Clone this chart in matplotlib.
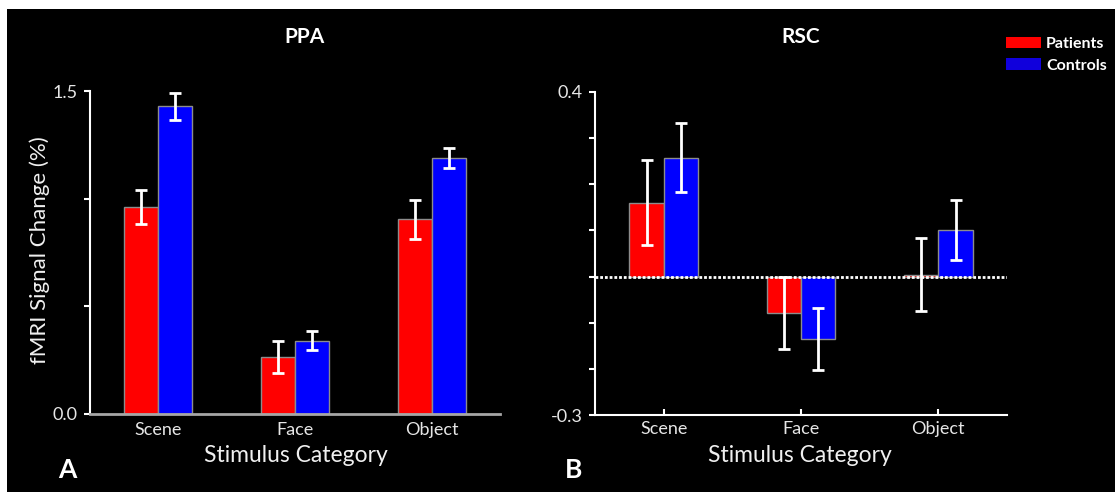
import matplotlib.pyplot as plt
import numpy as np
from matplotlib.patches import Rectangle, Patch

# values
categories = ["Scene", "Face", "Object"]

ppa_patients = [0.96, 0.265, 0.905]
ppa_patients_err = [0.079, 0.075, 0.09]
ppa_controls = [1.43, 0.34, 1.19]
ppa_controls_err = [0.063, 0.044, 0.047]

rsc_patients = [0.16, -0.079, 0.004]
rsc_patients_err = [0.092, 0.079, 0.079]
rsc_controls = [0.258, -0.135, 0.101]
rsc_controls_err = [0.074, 0.067, 0.065]

plt.rcParams['font.family'] = ['Lato', 'DejaVu Sans']

W, H = 1115, 492
fig = plt.figure(figsize=(W / 100, H / 100), dpi=100, facecolor='white')
# black panel with a thin white margin at top and left
fig.add_artist(Rectangle((7 / W, 0), 1, 1 - 9 / H, transform=fig.transFigure,
                         facecolor='black', edgecolor='none', zorder=-10))


def px(x, y):
    return x / W, 1 - y / H


def draw_panel(ax, patients, p_err, controls, c_err):
    x = np.arange(len(categories))
    w = 0.25
    ax.bar(x - w / 2, patients, w, color='#ff0000', edgecolor='#8c8c8c', linewidth=1, zorder=2)
    ax.bar(x + w / 2, controls, w, color='#0000ff', edgecolor='#8c8c8c', linewidth=1, zorder=2)
    ax.errorbar(x - w / 2, patients, yerr=p_err, fmt='none', ecolor='white',
                elinewidth=2, capsize=4.5, capthick=2, zorder=4)
    ax.errorbar(x + w / 2, controls, yerr=c_err, fmt='none', ecolor='white',
                elinewidth=2, capsize=4.5, capthick=2, zorder=4)
    ax.set_xlim(-0.5, 2.5)
    ax.set_xticks(x)
    ax.set_xticklabels(categories)
    ax.set_facecolor('black')
    for s in ['top', 'right']:
        ax.spines[s].set_visible(False)
    ax.spines['left'].set_color('white')
    ax.spines['left'].set_linewidth(1.5)
    ax.tick_params(axis='y', direction='out', length=4, width=1.5, color='white',
                   labelcolor='#e6e6e6', labelsize=13, pad=5)
    ax.tick_params(axis='x', labelcolor='#e6e6e6', labelsize=13)


# PPA panel
ax1 = fig.add_axes([90 / W, 1 - 414 / H, 410 / W, 323 / H])
draw_panel(ax1, ppa_patients, ppa_patients_err, ppa_controls, ppa_controls_err)
ax1.set_ylim(0, 1.5)
ax1.set_yticks([0, 0.5, 1.0, 1.5])
ax1.set_yticklabels(['0.0', '', '', '1.5'])
ax1.spines['bottom'].set_color('#a6a6a6')
ax1.spines['bottom'].set_linewidth(2)
ax1.spines['bottom'].set_zorder(3)
ax1.tick_params(axis='x', length=0, pad=6)

# RSC panel
ax2 = fig.add_axes([595 / W, 1 - 415 / H, 412 / W, 323 / H])
draw_panel(ax2, rsc_patients, rsc_patients_err, rsc_controls, rsc_controls_err)
ax2.set_ylim(-0.3, 0.4)
ax2.set_yticks(np.arange(-0.3, 0.41, 0.1))
ax2.set_yticklabels(['-0.3', '', '', '', '', '', '', '0.4'])
ax2.spines['bottom'].set_color('white')
ax2.spines['bottom'].set_linewidth(1.5)
ax2.tick_params(axis='x', direction='in', length=4, width=1.5, color='white', pad=4)
ax2.axhline(0, color='white', linestyle=(0, (1.0, 0.7)), linewidth=2, zorder=3)

# titles, labels, panel letters
fig.text(*px(304, 37), 'PPA', color='white', fontsize=15, fontweight='bold', ha='center', va='center')
fig.text(*px(801, 37), 'RSC', color='white', fontsize=15, fontweight='bold', ha='center', va='center')
fig.text(*px(296, 455), 'Stimulus Category', color='#f0f0f0', fontsize=16.5, ha='center', va='center')
fig.text(*px(800, 455), 'Stimulus Category', color='#f0f0f0', fontsize=16.5, ha='center', va='center')
fig.text(*px(40, 250), 'fMRI Signal Change (%)', color='#f0f0f0', fontsize=16,
         rotation=90, ha='center', va='center')
fig.text(*px(67, 470), 'A', color='white', fontsize=19, fontweight='bold', ha='center', va='center')
fig.text(*px(574, 470), 'B', color='white', fontsize=19, fontweight='bold', ha='center', va='center')

# legend
handles = [Patch(facecolor='#ff0000', edgecolor='none', label='Patients'),
           Patch(facecolor='#1000dc', edgecolor='none', label='Controls')]
leg = fig.legend(handles=handles, loc='upper left', bbox_to_anchor=px(1006, 37),
                 frameon=False, fontsize=11.5, handlelength=2.2, handleheight=0.7,
                 handletextpad=0.3, labelspacing=0.45, borderpad=0, borderaxespad=0)
for t in leg.get_texts():
    t.set_color('white')
    t.set_fontweight('bold')

fig.savefig('out.png', dpi=100, facecolor=fig.get_facecolor())
plt.close()
